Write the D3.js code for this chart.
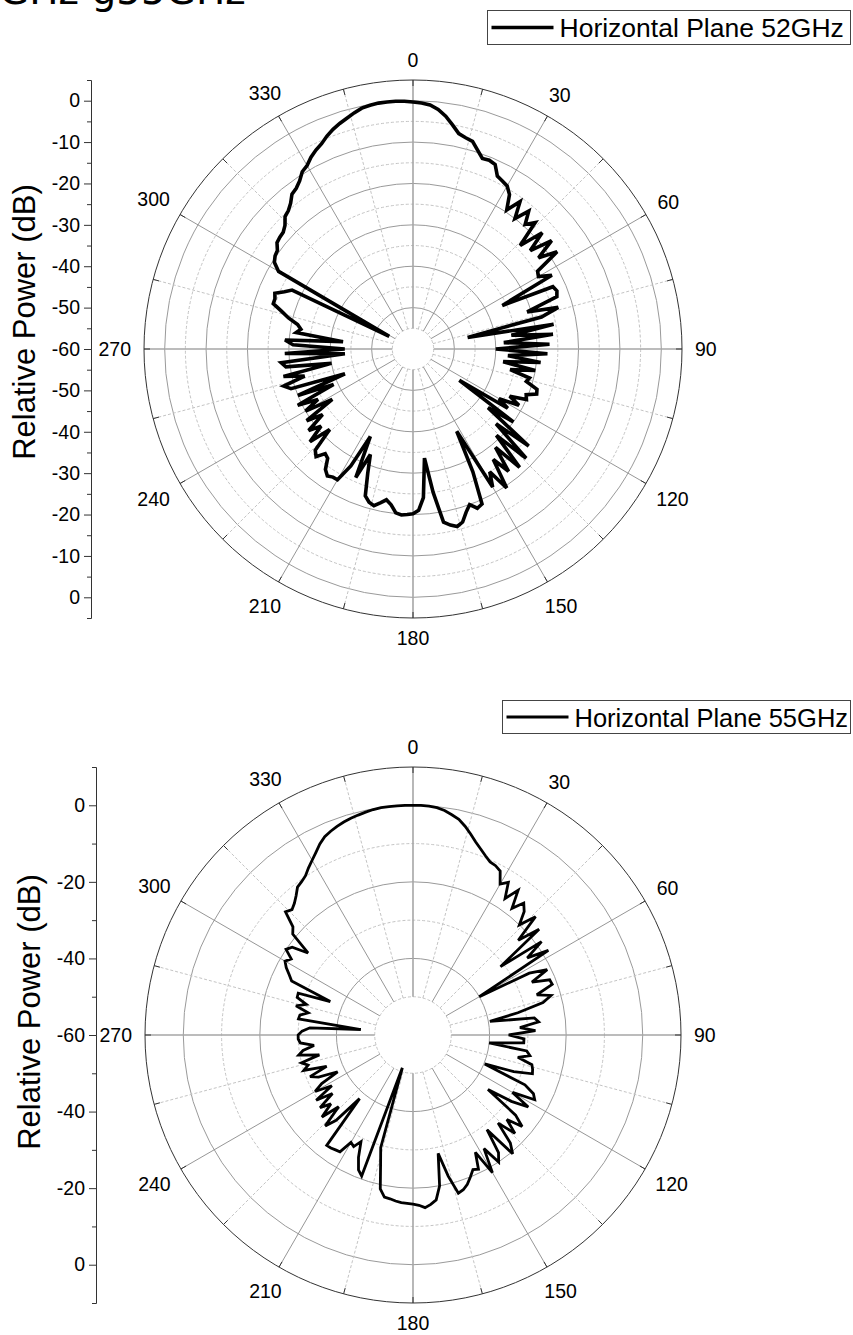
<!DOCTYPE html>
<html><head><meta charset="utf-8">
<script src="https://cdn.jsdelivr.net/npm/d3@7"></script>
<style>
html,body{margin:0;padding:0;background:#fff;}
svg{display:block;}
text{font-family:"Liberation Sans",Arial,sans-serif;fill:#000;}
</style></head><body>
<svg id="chart" width="853" height="1335"></svg>
<script>
// ---------------- data ----------------
const angles = [
  0,2,4,6,8,10,12,14,16,18,
  20,22,24,26,28,30,32,34,36,38,
  40,42,44,46,48,50,52,54,56,58,
  60,62,64,66,68,70,72,74,76,78,
  80,82,84,86,88,90,92,94,96,98,
  100,102,104,106,108,110,112,114,116,118,
  120,122,124,126,128,130,132,134,136,138,
  140,142,144,146,148,150,152,154,156,158,
  160,162,164,166,168,170,172,174,176,178,
  180,182,184,186,188,190,192,194,196,198,
  200,202,204,206,208,210,212,214,216,218,
  220,222,224,226,228,230,232,234,236,238,
  240,242,244,246,248,250,252,254,256,258,
  260,262,264,266,268,270,272,274,276,278,
  280,282,284,286,288,290,292,294,296,298,
  300,302,304,306,308,310,312,314,316,318,
  320,322,324,326,328,330,332,334,336,338,
  340,342,344,346,348,350,352,354,356,358
];
const power52 = [
  -0.3,-0.5,-0.9,-1.8,-3.2,-5.0,-6.8,-7.4,-7.8,-9.5,
  -11.0,-10.8,-11.2,-13.5,-14.0,-14.5,-16.0,-19.5,-16.0,-20.0,
  -16.5,-19.5,-17.5,-24.0,-18.0,-23.0,-17.5,-22.5,-18.0,-24.5,
  -25.0,-22.0,-36.0,-23.0,-22.5,-23.0,-31.0,-23.5,-28.0,-46.5,
  -25.5,-36.0,-26.0,-38.0,-27.0,-40.0,-27.5,-37.0,-29.0,-38.0,
  -30.0,-36.0,-31.0,-31.5,-28.5,-28.2,-30.5,-30.0,-34.0,-31.0,
  -36.0,-33.0,-46.5,-30.0,-37.0,-23.5,-33.0,-22.0,-31.0,-21.5,
  -29.0,-22.5,-27.0,-19.5,-25.0,-21.5,-37.5,-27.0,-19.0,-18.5,
  -20.0,-18.5,-16.5,-15.8,-16.5,-17.5,-25.0,-33.5,-24.0,-21.0,
  -20.2,-20.0,-19.8,-20.2,-22.0,-23.0,-22.0,-21.0,-21.5,-22.7,
  -28.0,-32.5,-26.0,-36.5,-28.0,-23.5,-23.5,-23.0,-24.0,-26.5,
  -27.0,-25.0,-26.0,-32.0,-26.5,-31.0,-28.0,-33.0,-29.0,-37.0,
  -30.0,-34.0,-29.0,-39.0,-30.0,-42.5,-29.0,-27.5,-33.0,-28.0,
  -40.0,-29.0,-28.0,-43.5,-29.0,-43.5,-31.0,-29.0,-43.0,-31.5,
  -32.5,-31.5,-29.0,-27.0,-24.5,-24.5,-24.0,-26.0,-27.5,-53.5,
  -22.5,-20.5,-19.8,-19.5,-18.3,-18.0,-17.8,-17.0,-15.5,-15.0,
  -14.0,-12.5,-12.0,-11.0,-9.5,-8.8,-7.5,-6.5,-5.7,-4.5,
  -3.5,-2.7,-2.0,-1.2,-0.5,-0.2,0.0,0.0,0.0,-0.1
];
const power55 = [
  0.0,0.0,-0.1,-0.3,-0.8,-1.6,-2.4,-3.8,-5.4,-7.0,
  -8.3,-9.5,-10.5,-10.8,-11.5,-14.5,-13.0,-17.0,-13.3,-18.0,
  -15.0,-16.6,-20.0,-15.5,-23.0,-17.0,-31.0,-18.5,-24.0,-18.3,
  -40.0,-25.6,-21.0,-26.0,-21.5,-21.3,-26.0,-22.5,-25.0,-32.0,
  -39.6,-28.0,-27.0,-32.0,-28.0,-35.0,-31.0,-31.0,-40.0,-30.0,
  -29.0,-32.0,-28.0,-27.5,-27.2,-32.0,-39.8,-28.0,-25.0,-24.0,
  -30.0,-24.5,-29.0,-35.8,-26.0,-22.8,-27.0,-23.0,-28.0,-22.0,
  -19.5,-28.6,-22.0,-20.0,-25.0,-18.5,-25.3,-21.0,-21.5,-20.0,
  -18.5,-17.5,-17.0,-22.0,-28.4,-20.0,-16.5,-15.5,-14.8,-15.5,
  -15.8,-16.0,-16.1,-16.4,-16.8,-17.0,-18.9,-25.0,-29.4,-51.0,
  -20.8,-22.0,-25.0,-29.0,-27.0,-27.6,-24.0,-23.8,-23.5,-23.4,
  -38.3,-30.0,-27.0,-33.0,-28.0,-32.0,-29.2,-34.0,-29.5,-35.0,
  -30.5,-33.0,-38.1,-33.0,-31.0,-36.0,-30.0,-31.5,-30.0,-35.0,
  -29.7,-31.0,-34.0,-30.5,-30.0,-30.0,-31.0,-33.0,-46.3,-29.8,
  -30.0,-32.0,-28.5,-31.0,-28.2,-28.1,-36.7,-25.3,-24.0,-22.5,
  -21.4,-22.5,-20.0,-21.0,-25.2,-19.0,-17.8,-13.7,-14.5,-13.7,
  -12.5,-11.0,-10.5,-9.8,-8.5,-7.3,-6.0,-4.5,-3.3,-2.6,
  -2.0,-1.5,-1.1,-0.8,-0.5,-0.2,0.0,0.0,0.0,0.0
];
const angleLabels = [0,30,60,90,120,150,180,210,240,270,300,330];
const spokeMinor = [15,45,75,105,135,165,195,225,255,285,315,345];
const spokeAll = [0,15,30,45,60,75,90,105,120,135,150,165,180,195,210,225,240,255,270,285,300,315,330,345];

const ticks52Major = [0,-10,-20,-30,-40,-50,-60];
const ticks52Minor = [5,-5,-15,-25,-35,-45,-55];
const grid52Major = [-50,-40,-30,-20,-10,0];
const grid52Minor = [-55,-45,-35,-25,-15,-5];

const ticks55Major = [0,-20,-40,-60];
const ticks55Minor = [10,-10,-30,-50];
const grid55Major = [-40,-20,0];
const grid55Minor = [-50,-30,-10];

const legend52 = "Horizontal Plane 52GHz";
const legend55 = "Horizontal Plane 55GHz";
const yTitle = "Relative Power (dB)";
const topText = "GHz g55GHz";

// ---------------- drawing ----------------
const svg = d3.select("#chart");
svg.append("rect").attr("width",853).attr("height",1335).attr("fill","#fff");

svg.append("text").attr("x",-1).attr("y",4)
  .style("font-family","'DejaVu Sans',sans-serif").style("font-size","39px")
  .text(topText);

function drawPolar(cfg){
  const g = svg.append("g");
  const r = d3.scaleLinear().domain(cfg.domain).range([0, cfg.R]);
  const cg = g.append("g").attr("transform",`translate(${cfg.cx},${cfg.cy})`);
  const rad = a => a*Math.PI/180;
  const holeR = r(cfg.hole);

  // dashed (minor) circles
  cg.selectAll(".gmin").data(cfg.gridMinor).join("circle")
    .attr("r", d => r(d)).attr("fill","none")
    .attr("stroke","#c4c4c4").attr("stroke-width",1).attr("stroke-dasharray","3,2");
  // solid circles
  cg.selectAll(".gmaj").data(cfg.gridMajor).join("circle")
    .attr("r", d => r(d)).attr("fill","none")
    .attr("stroke","#9a9a9a").attr("stroke-width",1);

  // minor spokes (dashed)
  cg.selectAll(".smin").data(spokeMinor).join("line")
    .attr("x1", d => holeR*Math.sin(rad(d))).attr("y1", d => -holeR*Math.cos(rad(d)))
    .attr("x2", d => cfg.R*Math.sin(rad(d))).attr("y2", d => -cfg.R*Math.cos(rad(d)))
    .attr("stroke","#c4c4c4").attr("stroke-width",1).attr("stroke-dasharray","3,2");
  // major spokes
  cg.selectAll(".smaj").data(angleLabels).join("line")
    .attr("x1", d => holeR*Math.sin(rad(d))).attr("y1", d => -holeR*Math.cos(rad(d)))
    .attr("x2", d => cfg.R*Math.sin(rad(d))).attr("y2", d => -cfg.R*Math.cos(rad(d)))
    .attr("stroke", d => d%90===0 ? "#a6a6a6" : "#8a8a8a")
    .attr("stroke-width", d => d%90===0 ? 1.6 : 0.9);

  // outer circle
  cg.append("circle").attr("r",cfg.R).attr("fill","none").attr("stroke","#333").attr("stroke-width",1);
  // outer ticks
  cg.selectAll(".otick").data(spokeAll).join("line")
    .attr("x1", d => (cfg.R-6)*Math.sin(rad(d))).attr("y1", d => -(cfg.R-6)*Math.cos(rad(d)))
    .attr("x2", d => cfg.R*Math.sin(rad(d))).attr("y2", d => -cfg.R*Math.cos(rad(d)))
    .attr("stroke","#333").attr("stroke-width",1);

  // data line
  const pts = cfg.angles.map((a,i) => [a, cfg.values[i]]);
  const line = d3.lineRadial()
    .angle(d => rad(d[0]))
    .radius(d => r(Math.max(d[1], cfg.domain[0])))
    .curve(d3.curveLinearClosed);
  cg.append("path").datum(pts).attr("d", line)
    .attr("fill","none").attr("stroke","#000")
    .attr("stroke-width", cfg.lineW).attr("stroke-linejoin","miter").attr("stroke-miterlimit",3);

  // angle labels
  const fs = 19.5, R0 = cfg.R + 13;
  const labPos = d => {
    const w = String(d).length*0.556*fs, h = 0.716*fs;
    const s = Math.sin(rad(d)), c = Math.cos(rad(d));
    const RR = R0 + w/2*Math.abs(s) + h/2*Math.abs(c);
    return [RR*s, -RR*c];
  };
  cg.selectAll(".alab").data(angleLabels).join("text")
    .attr("text-anchor","middle").attr("dy","0.36em")
    .style("font-size", fs+"px")
    .attr("x", d => labPos(d)[0])
    .attr("y", d => labPos(d)[1])
    .text(d => d);

  // left radial axis
  const top = d3.scaleLinear().domain(cfg.domain).range([cfg.cy, cfg.cy - cfg.R]);
  const bot = d3.scaleLinear().domain(cfg.domain).range([cfg.cy, cfg.cy + cfg.R]);
  const ax = g.append("g").attr("transform",`translate(${cfg.axisX},0)`);
  const fmt = d => String(d);
  const styleAxis = sel => {
    sel.selectAll("path,line").attr("stroke","#333");
    sel.selectAll("text").style("font-size","19.5px").style("font-family","'Liberation Sans',Arial,sans-serif").attr("fill","#000");
  };
  ax.append("g").call(d3.axisLeft(top).tickValues(cfg.ticksMajor).tickSize(7).tickPadding(4).tickSizeOuter(0).tickFormat(fmt)).call(styleAxis);
  ax.append("g").call(d3.axisLeft(bot).tickValues(cfg.ticksMajor.filter(v => v !== cfg.domain[0])).tickSize(7).tickPadding(4).tickSizeOuter(0).tickFormat(fmt)).call(styleAxis);
  ax.append("g").call(d3.axisLeft(top).tickValues(cfg.ticksMinor).tickSize(4).tickSizeOuter(0).tickFormat("")).call(styleAxis);
  ax.append("g").call(d3.axisLeft(bot).tickValues(cfg.ticksMinor).tickSize(4).tickSizeOuter(0).tickFormat("")).call(styleAxis);

  // y title
  g.append("text").attr("transform",`translate(${cfg.titleX},${cfg.titleY}) rotate(-90)`)
    .attr("text-anchor","middle").style("font-size","31px").text(yTitle);

  // legend
  const L = cfg.legend;
  g.append("rect").attr("x",L.x).attr("y",L.y).attr("width",L.w).attr("height",L.h)
    .attr("fill","#fff").attr("stroke","#444").attr("stroke-width",1);
  g.append("line").attr("x1",L.x+4).attr("x2",L.x+66).attr("y1",L.y+L.h/2).attr("y2",L.y+L.h/2)
    .attr("stroke","#000").attr("stroke-width",cfg.lineW);
  g.append("text").attr("x",L.x+72).attr("y",L.y+L.h/2+9.5).style("font-size",L.fs+"px").text(L.text);
}

drawPolar({
  cx:413, cy:349, R:269, domain:[-60,5], hole:-55,
  gridMajor:grid52Major, gridMinor:grid52Minor,
  angles:angles, values:power52, lineW:3.6,
  axisX:91, ticksMajor:ticks52Major, ticksMinor:ticks52Minor,
  titleX:35, titleY:322,
  legend:{x:487.5, y:10.5, w:363, h:34, fs:26.5, text:legend52}
});
drawPolar({
  cx:413, cy:1035, R:268, domain:[-60,10], hole:-50,
  gridMajor:grid55Major, gridMinor:grid55Minor,
  angles:angles, values:power55, lineW:2.8,
  axisX:96, ticksMajor:ticks55Major, ticksMinor:ticks55Minor,
  titleX:40, titleY:1012,
  legend:{x:502.5, y:700.5, w:348, h:33, fs:25.5, text:legend55}
});
</script>
</body></html>
